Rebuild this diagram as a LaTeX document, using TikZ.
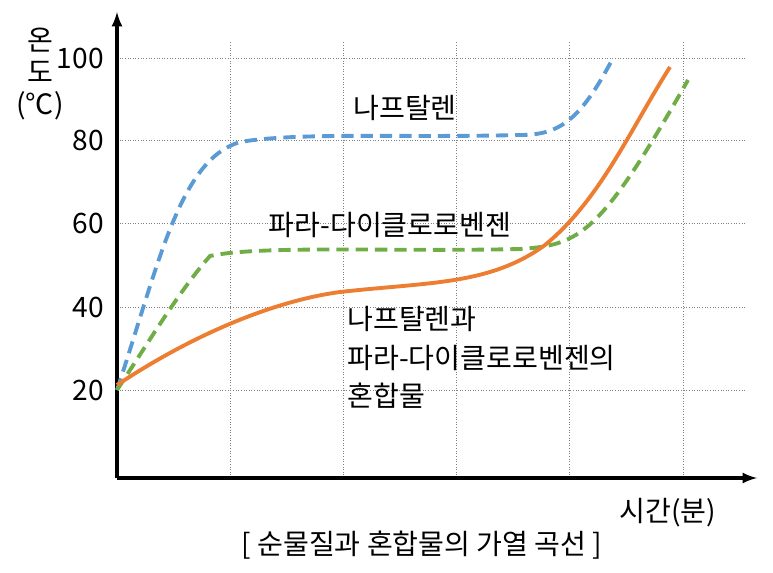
\documentclass[tikz,border=0pt]{standalone}
\usepackage{fontspec}
\setmainfont{Noto Sans CJK KR}
\begin{document}
\begin{tikzpicture}[x=0.02cm, y=-0.02cm, >=latex,
  grid line/.style={gray, densely dotted, line width=0.5pt},
  label text/.style={font=\fontsize{16}{22}\selectfont},
  curve/.style={line width=2.2pt}]
\useasboundingbox (0,0) rectangle (773,573);
% grid
\foreach \x in {230,343,456,569,683}
    \draw[grid line] (\x,478)--(\x,42);
\foreach \y/\t in {58/100,140/80,223/60,307/40,390/20}
{
    \draw[grid line] (117,\y)--(745,\y);
    \node[label text, left] at (110,\y) {\t};
}
% axes
\coordinate (O) at (117,478);
\coordinate (xend) at (757,478);
\coordinate (yend) at (117,12);
\draw[->, line width=1.8pt] (O)--(xend);
\draw[->, line width=1.8pt] (O)--(yend);
\node[label text] (ylab1) at (40,40) {온};
\node[label text] (ylab2) at (40,72) {도};
\node[label text] (ylab3) at (40,106) {(℃)};
\node[label text] (xlab) at (668,513) {시간(분)};
\node[label text] (cap) at (422,545) {[ 순물질과 혼합물의 가열 곡선 ]};
% curves
\draw[curve, dashed, dash pattern=on 7pt off 4pt, color={rgb,255:red,91;green,155;blue,213}]
  (117,390) .. controls (160,260) and (180,160) .. (240,142)
  .. controls (300,132) and (400,138) .. (520,135)
  .. controls (560,135) and (580,120) .. (612,60);
\draw[curve, dashed, dash pattern=on 7pt off 4pt, color={rgb,255:red,112;green,173;blue,71}]
  (117,390) .. controls (150,340) and (180,290) .. (210,256)
  .. controls (260,245) and (400,252) .. (520,249)
  .. controls (580,245) and (600,235) .. (688,80);
\draw[curve, color={rgb,255:red,237;green,125;blue,49}]
  (117,385) .. controls (200,330) and (280,300) .. (340,292)
  .. controls (430,282) and (490,285) .. (545,245)
  .. controls (600,200) and (630,130) .. (670,67);
% labels
\node[label text] (naph) at (405,108) {나프탈렌};
\node[label text] (para) at (390,225) {파라-다이클로로벤젠};
\node[label text, align=left, anchor=north west, inner sep=0pt] (mix) at (347,306) {나프탈렌과\\파라-다이클로로벤젠의\\혼합물};
\end{tikzpicture}
\end{document}
